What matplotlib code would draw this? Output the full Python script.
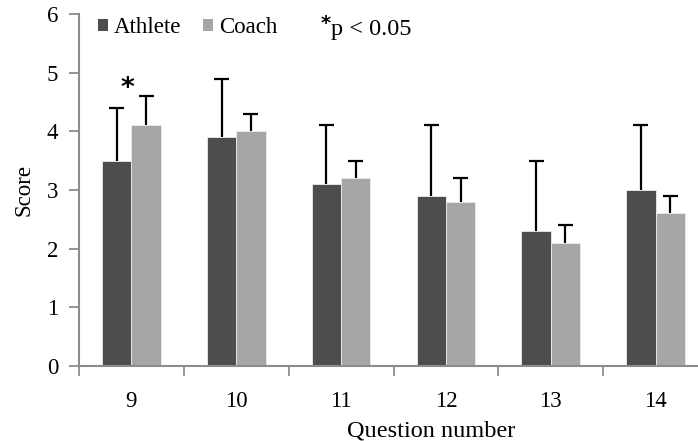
import matplotlib
matplotlib.use("Agg")
import matplotlib.pyplot as plt
import numpy as np

plt.rcParams['font.family'] = ['Liberation Serif', 'DejaVu Serif']

questions = ["9", "10", "11", "12", "13", "14"]
athlete_mean = [3.5, 3.9, 3.1, 2.9, 2.3, 3.0]
athlete_sd = [0.9, 1.0, 1.0, 1.2, 1.2, 1.1]
coach_mean = [4.1, 4.0, 3.2, 2.8, 2.1, 2.6]
coach_sd = [0.5, 0.3, 0.3, 0.4, 0.3, 0.3]
significant = ["9"]

dark = "#4d4d4d"
light = "#a6a6a6"
axis_grey = "#8c8c8c"

fig = plt.figure(figsize=(6.98, 4.41), dpi=100)
ax = fig.add_axes([79 / 698, 1 - 366 / 441, (708 - 79) / 698, (366 - 14) / 441])

x = np.arange(len(questions))
w = 0.28
cap = 0.072


def bars_with_upper_sd(pos, mean, sd, color, label):
    bars = ax.bar(pos, mean, w, color=color, edgecolor="#ececec", linewidth=0.6,
                  label=label, zorder=2)
    mean = np.asarray(mean)
    top = mean + np.asarray(sd)
    ax.vlines(pos, mean, top, color="black", linewidth=1.6, zorder=3)
    ax.hlines(top, pos - cap, pos + cap, color="black", linewidth=1.6, zorder=3)
    return bars


b1 = bars_with_upper_sd(x - w / 2, athlete_mean, athlete_sd, dark, "Athlete")
b2 = bars_with_upper_sd(x + w / 2, coach_mean, coach_sd, light, "Coach")

for q in significant:
    i = questions.index(q)
    top = max(athlete_mean[i] + athlete_sd[i], coach_mean[i] + coach_sd[i])
    ax.text(x[i] - 0.04, top - 0.1, "*", ha="center", va="bottom",
            fontsize=19, fontweight="bold", family="DejaVu Sans")

ax.set_xlim(-0.5, len(questions) - 0.5)
ax.set_ylim(0, 6)
ax.set_yticks(range(0, 7))
ax.set_xticks(x)
ax.set_xticklabels(questions)
ax.set_xticks(np.arange(-0.5, len(questions), 1), minor=True)

ax.tick_params(axis="y", direction="out", length=7, width=1.3, color=axis_grey,
               labelsize=16.5, pad=8)
ax.tick_params(axis="x", which="major", length=0, labelsize=16.5, pad=18)
ax.tick_params(axis="x", which="minor", direction="out", length=7, width=1.3,
               color=axis_grey)

for s in ["top", "right"]:
    ax.spines[s].set_visible(False)
for s in ["left", "bottom"]:
    ax.spines[s].set_color(axis_grey)
    ax.spines[s].set_linewidth(1.5)

ax.set_ylabel("Score", fontsize=16.5, labelpad=9)
ax.set_xlabel("Question number", fontsize=17.5, labelpad=4)
ax.xaxis.set_label_coords(0.56, -0.155)

leg = ax.legend(handles=[b1, b2], loc="upper left", bbox_to_anchor=(0.004, 1.037),
                ncol=2, frameon=False, fontsize=16.5, handlelength=0.45,
                handleheight=0.45, handletextpad=0.25, columnspacing=0.95,
                borderpad=0.2)
for h in leg.legend_handles:
    h.set_edgecolor("none")

ax.text(0.4, 1.0, "*", transform=ax.transAxes, ha="right", va="top",
        fontsize=14, fontweight="bold", family="DejaVu Sans")
ax.text(0.4, 0.985, "p < 0.05", transform=ax.transAxes, ha="left", va="top",
        fontsize=17.5)

fig.savefig("out.png", dpi=100)
